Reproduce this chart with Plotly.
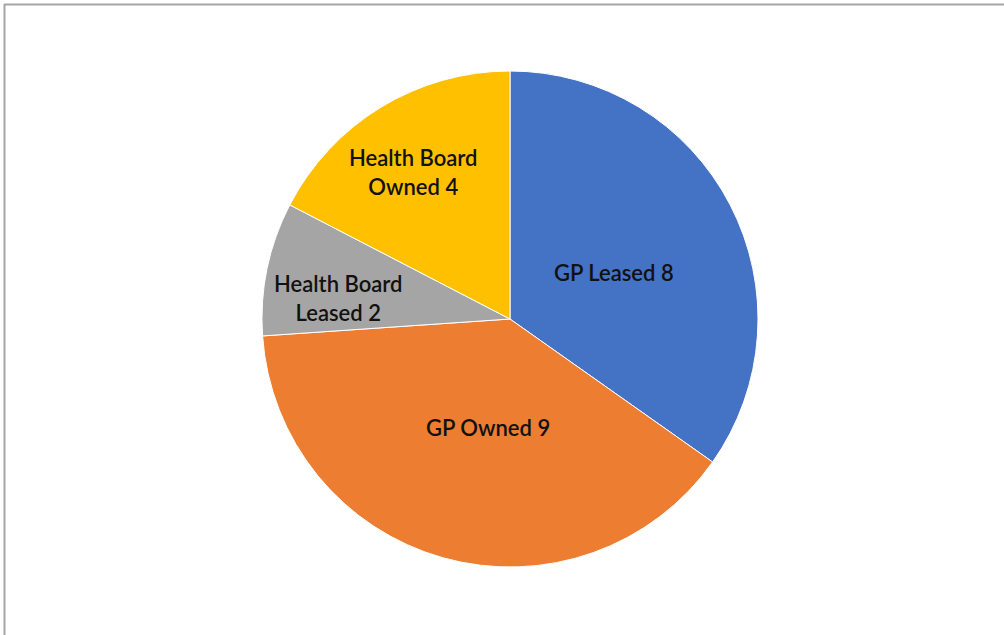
import math
import plotly.graph_objects as go

# Premises by ownership type
labels = ["GP Leased", "GP Owned", "Health Board Leased", "Health Board Owned"]
values = [8, 9, 2, 4]
colors = ["#4472C4", "#ED7D31", "#A5A5A5", "#FFC000"]
# label text as shown on each slice
slice_text = ["GP Leased 8", "GP Owned 9", "Health Board<br>Leased 2", "Health Board<br>Owned 4"]
# label placement: fraction of the pie radius, and angular nudge from the slice's mid angle (deg)
label_radius = [0.458, 0.445, 0.70, 0.71]
label_shift = [3.5, -4.2, -4.7, -2.3]

W, H = 1004, 635
cx, cy, R = 510, 319, 248  # pie centre and radius in pixels

fig = go.Figure(
    go.Pie(
        labels=labels,
        values=values,
        sort=False,
        direction="clockwise",
        rotation=0,
        marker=dict(colors=colors, line=dict(color="white", width=1)),
        textinfo="none",
        hoverinfo="label+value",
        showlegend=False,
        domain=dict(x=[(cx - R) / W, (cx + R) / W], y=[(H - cy - R) / H, (H - cy + R) / H]),
    )
)

# place each label near its slice's mid angle
total = sum(values)
start = 0.0
annotations = []
for v, txt, rf, sh in zip(values, slice_text, label_radius, label_shift):
    mid = start + v / total * 360 / 2 + sh
    start += v / total * 360
    a = math.radians(mid)
    px = cx + rf * R * math.sin(a)
    py = cy - rf * R * math.cos(a)
    annotations.append(
        dict(
            x=px / W, y=1 - py / H, xref="paper", yref="paper",
            xanchor="center", yanchor="middle",
            text=txt, showarrow=False, align="center",
            font=dict(family="Lato", size=22, color="#111111", weight=600),
        )
    )

# chart frame
frame = [
    dict(type="line", xref="paper", yref="paper", x0=4 / W, x1=1, y0=1 - 4.5 / H, y1=1 - 4.5 / H,
         line=dict(color="#a6a6a6", width=2)),
    dict(type="line", xref="paper", yref="paper", x0=4.5 / W, x1=4.5 / W, y0=0, y1=1 - 4 / H,
         line=dict(color="#a6a6a6", width=2)),
]

fig.update_layout(
    width=W, height=H,
    margin=dict(l=0, r=0, t=0, b=0),
    paper_bgcolor="white",
    annotations=annotations,
    shapes=frame,
)

fig.write_html("out.html")
